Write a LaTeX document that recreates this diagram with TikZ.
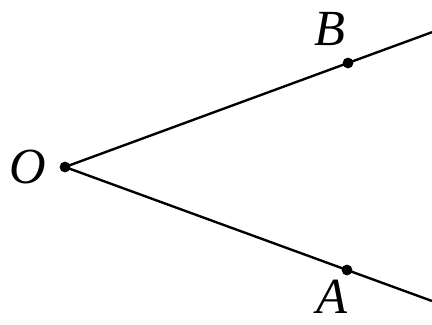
\documentclass[tikz,border=0pt]{standalone}
\usepackage{fontspec}
\setmainfont{Liberation Serif}
\usepackage{tikz}
\usetikzlibrary{positioning}

\begin{document}
\begin{tikzpicture}[
    line width=1.7pt,
    dotnode/.style={circle, fill=black, inner sep=0pt, minimum size=0.27cm},
    labelnode/.style={font=\fontsize{36}{38}\selectfont\itshape, inner sep=0pt}
  ]
  \useasboundingbox (0,0) rectangle (10.8,8.125);

  \node (o) [dotnode] at (1.625,3.95) {};
  \node (b) [dotnode] at (8.7,6.55) {};
  \node (a) [dotnode] at (8.675,1.375) {};
  \coordinate (bend) at (10.8,7.32);
  \coordinate (aend) at (10.8,0.6);

  \node (olabel) [labelnode] at (0.7,3.95) {O};
  \node (blabel) [labelnode] at (8.25,7.4) {B};
  \node (alabel) [labelnode] at (8.3,0.7) {A};

  \draw (o.center) -- (b.center) -- (bend);
  \draw (o.center) -- (a.center) -- (aend);

\end{tikzpicture}
\end{document}
